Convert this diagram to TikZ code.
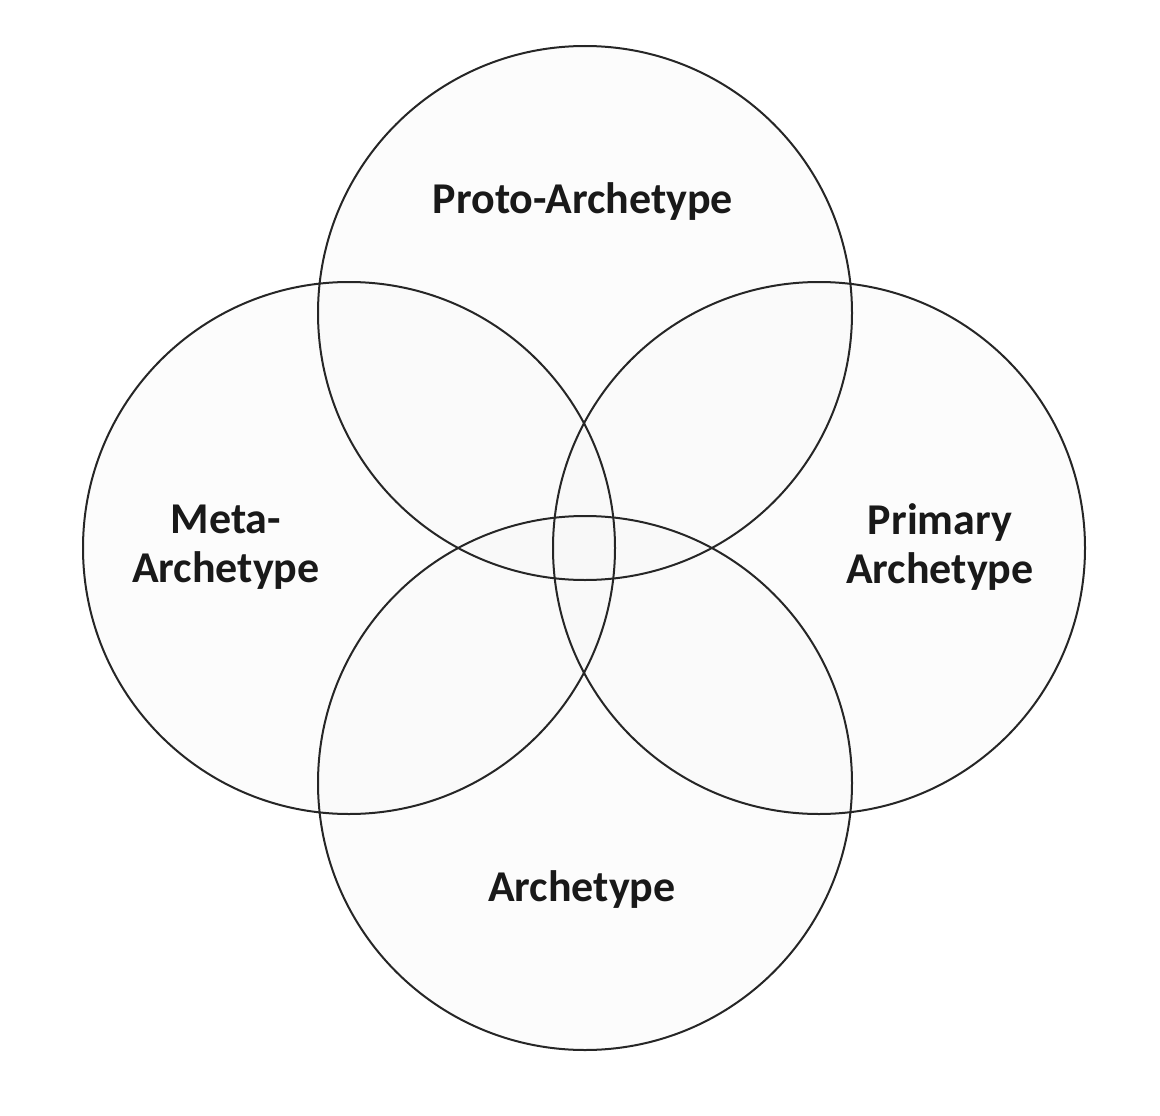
\documentclass[tikz,border=0pt]{standalone}
\usepackage{fontspec}
\setmainfont{Carlito}
\begin{document}
\begin{tikzpicture}[x=1pt,y=-1pt,
  ringfill/.style={fill=black!3,fill opacity=0.35},
  ring/.style={draw=black!85,line width=2pt},
  lab/.style={font=\fontsize{44}{49}\selectfont\bfseries,align=center,text=black!90}]
\useasboundingbox (0,0) rectangle (1160,1116);
\foreach \c/\r in {{(585,313)}/267,{(349,548)}/266,{(819,548)}/266,{(585,783)}/267}
  \fill[ringfill] \c circle (\r);
\foreach \c/\r in {{(585,313)}/267,{(349,548)}/266,{(819,548)}/266,{(585,783)}/267}
  \draw[ring] \c circle (\r);
\node[lab] (proto) at (583,202) {Proto-Archetype};
\node[lab] (meta) at (226,547) {Meta-\\Archetype};
\node[lab] (prim) at (940,547) {Primary\\Archetype};
\node[lab] (arch) at (582,890) {Archetype};
\end{tikzpicture}
\end{document}
